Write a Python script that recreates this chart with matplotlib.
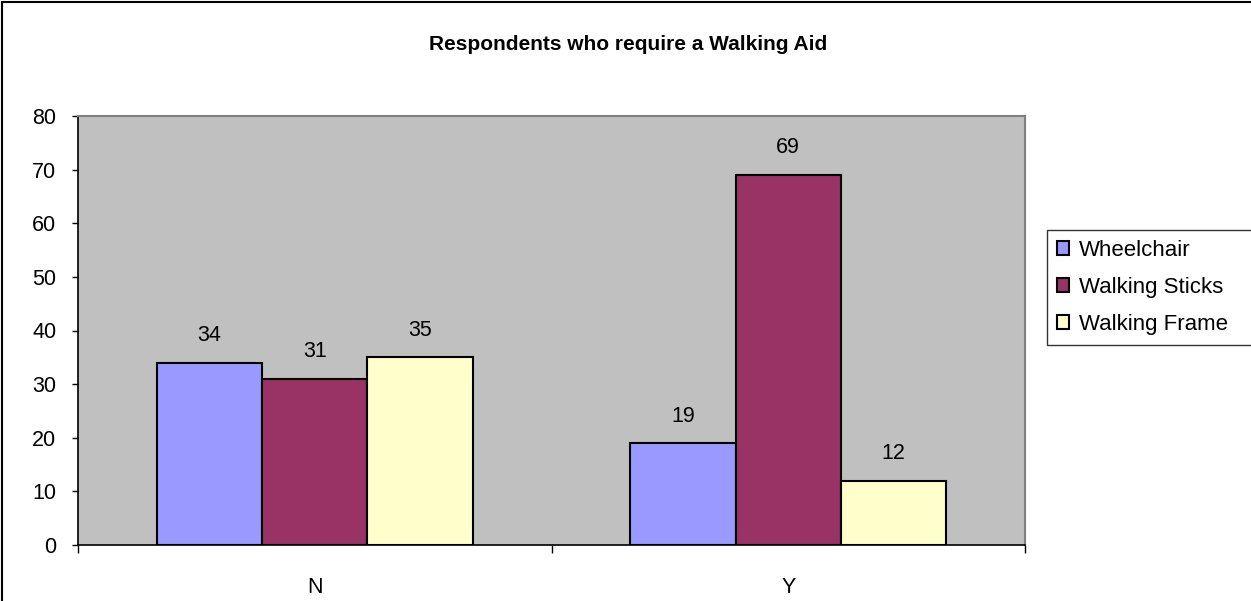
import matplotlib.pyplot as plt
from matplotlib.patches import Rectangle
import numpy as np

# data
categories = ['N', 'Y']
series_names = ['Wheelchair', 'Walking Sticks', 'Walking Frame']
wheelchair = [34, 19]
walking_sticks = [31, 69]
walking_frame = [35, 12]
colors = ['#9999FF', '#993366', '#FFFFCC']

plt.rcParams['font.family'] = ['Liberation Sans', 'DejaVu Sans']

W, H = 1251, 601
fig = plt.figure(figsize=(W / 100, H / 100), dpi=100)
ax = fig.add_axes([78 / W, 1 - 545 / H, (1025 - 78) / W, (545 - 116) / H])
ax.set_facecolor('#C0C0C0')

x = np.arange(len(categories))
bw = 0.2225
all_series = [wheelchair, walking_sticks, walking_frame]
for i, (vals, name, col) in enumerate(zip(all_series, series_names, colors)):
    bars = ax.bar(x + (i - 1) * bw, vals, width=bw, color=col,
                  edgecolor='black', linewidth=1.5, label=name, zorder=3)
    for b, v in zip(bars, vals):
        ax.annotate(str(v), (b.get_x() + b.get_width() / 2, v),
                    xytext=(0, 19.5), textcoords='offset points',
                    ha='center', va='center', fontsize=15.5)

ax.set_xlim(-0.5, 1.5)
ax.set_ylim(0, 80)
ax.set_yticks(range(0, 81, 10))
ax.tick_params(axis='y', length=4.5, width=1, pad=11, labelsize=15.5)

# category boundaries as ticks, labels in the middle
ax.set_xticks([-0.5, 0.5, 1.5])
ax.set_xticklabels([])
ax.tick_params(axis='x', which='major', length=6, width=1)
ax.set_xticks(x, minor=True)
ax.set_xticklabels(categories, minor=True)
ax.tick_params(axis='x', which='minor', length=0, pad=23, labelsize=15.5)

for side in ['left', 'bottom']:
    ax.spines[side].set_color('black')
    ax.spines[side].set_linewidth(1.2)
for side in ['top', 'right']:
    ax.spines[side].set_color('#808080')
    ax.spines[side].set_linewidth(1.5)

fig.text(628 / W, 1 - 45 / H, 'Respondents who require a Walking Aid',
         ha='center', va='center', fontsize=15, fontweight='bold')

leg = fig.legend(loc='upper left', mode='expand',
                 bbox_to_anchor=(1047 / W, 1 - 349 / H, 0.2, (349 - 230) / H),
                 fontsize=16, frameon=True, fancybox=False, edgecolor='black',
                 handlelength=0.55, handleheight=0.55, handletextpad=0.45,
                 labelspacing=0.72, borderpad=0.45, borderaxespad=0)
leg.get_frame().set_linewidth(1)

# outer chart border
fig.add_artist(Rectangle((2 / W, -0.1), 1.2, 0.1 + 599 / H, transform=fig.transFigure,
                         fill=False, edgecolor='black', linewidth=1.5))

plt.savefig('out.png', dpi=100)
